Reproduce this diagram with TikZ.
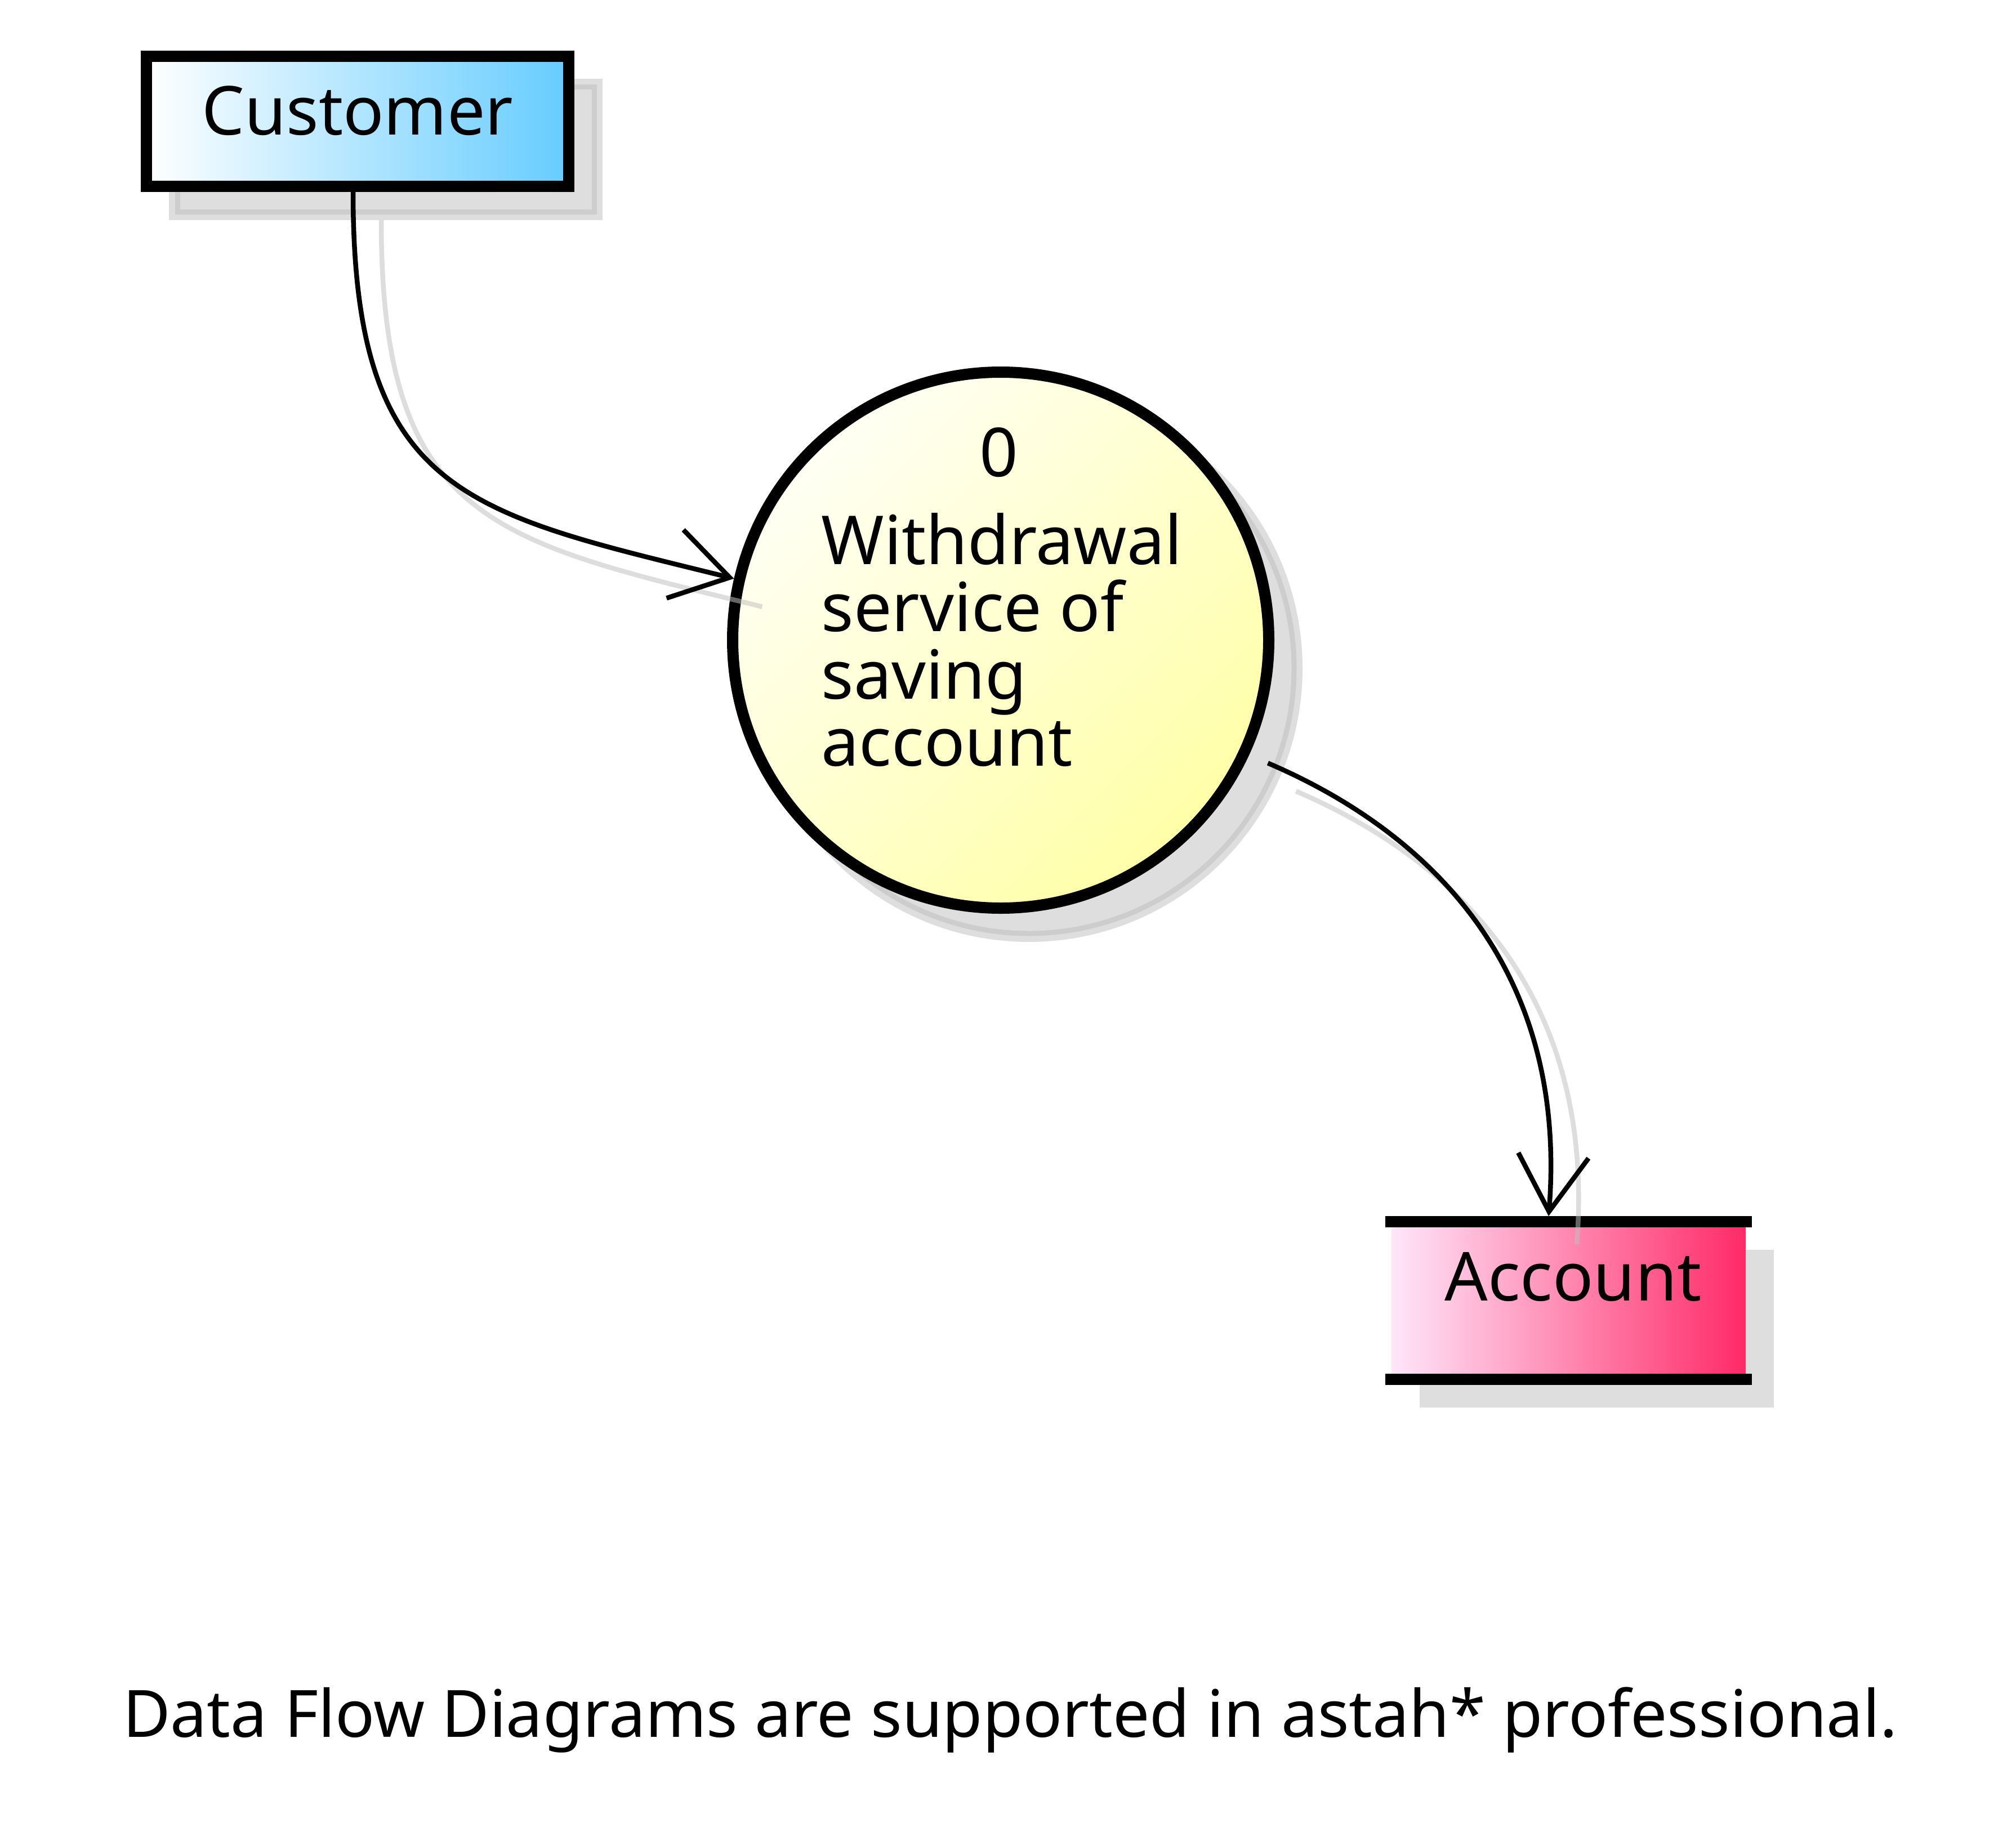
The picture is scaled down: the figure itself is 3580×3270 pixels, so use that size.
\documentclass[tikz,border=0pt]{standalone}
\usepackage{fontspec}
\setmainfont{Noto Sans}
\usetikzlibrary{arrows.meta,backgrounds}
\definecolor{custblue}{HTML}{66CCFF}
\definecolor{procpale}{HTML}{FFFFF4}
\definecolor{procyellow}{HTML}{FFFFA8}
\definecolor{storepale}{HTML}{FFE6FA}
\definecolor{storepink}{HTML}{FF2A68}
\definecolor{shadowgray}{HTML}{DEDEDE}
\definecolor{ringgray}{HTML}{CDCDCD}

\begin{document}
\begin{tikzpicture}[x=1pt, y=-1pt,
    font=\fontsize{120pt}{144pt}\selectfont,
    entity/.style={draw, line width=20pt, left color=white, right color=custblue,
      minimum width=750pt, inner sep=0pt, text height=140pt, text depth=91pt},
    process/.style={circle, draw, line width=20pt, top color=procpale,
      bottom color=procyellow, shading angle=45, minimum size=952pt, inner sep=0pt},
    datastore/.style={left color=storepale, right color=storepink, minimum width=629pt,
      inner sep=0pt, text height=140pt, text depth=140pt, outer xsep=0pt, outer ysep=10pt},
    storebar/.style={line width=20pt},
    shadowfill/.style={fill=shadowgray},
    shadowring/.style={draw=ringgray, line width=9pt},
    flow/.style={line width=8.5pt,
      -{Straight Barb[length=100pt, width=125pt, line cap=butt, line join=miter]}},
    flowshadow/.style={line width=8.5pt, draw=black!25, draw opacity=0.53}]
  \useasboundingbox (0,0) rectangle (3580,3270);

  % Entidad externa
  \node[entity] (cust) at (635,215.5) {Customer};

  % Proceso
  \node[process] (proc) at (1777,1137) {};
  \node[anchor=base] (procnum) at (1774,846) {0};
  \foreach \txt [count=\i] in {Withdrawal, service of, saving, account}
    \node[anchor=base west] (procline\i) at (1455,{882.5+119.5*\i}) {\txt};

  % Almacen de datos
  \node[datastore] (acct) at (2785.5,2310) {\hspace{16pt}Account};
  \draw[storebar] ([shift={(-11,10)}]acct.north west) -- ([shift={(11,10)}]acct.north east);
  \draw[storebar] ([shift={(-11,-10)}]acct.south west) -- ([shift={(11,-10)}]acct.south east);

  % Sombras
  \begin{scope}[on background layer]
    \fill[white] (0,0) rectangle (3580,3270);
    \fill[shadowfill] ([shift={(50,50)}]cust.north west) rectangle ([shift={(50,50)}]cust.south east);
    \draw[shadowring] ([shift={(65,65)}]cust.north west) rectangle ([shift={(35,35)}]cust.south east);
    \fill[shadowfill] ([shift={(50,50)}]proc.center) circle[radius=486];
    \draw[shadowring] ([shift={(50,50)}]proc.center) circle[radius=471];
    \fill[shadowfill] ([shift={(50,60)}]acct.north west) rectangle ([shift={(50,40)}]acct.south east);
  \end{scope}

  % Flujos de datos (sombra primero)
  \foreach \d/\s in {50/flowshadow, 0/flow} {
    \draw[\s] ([shift={(\d-8,\d)}]cust.south) .. controls +(0,540) and +(-473,-117) .. ([shift={(\d,\d)}]proc.167);
    \draw[\s] ([shift={(\d+34,\d+13)}]proc.-25) .. controls +(276,118) and +(35.5,-449) .. ([shift={(\d-35.5,\d)}]acct.north);
  }

  % Nota
  \node[anchor=base, font=\fontsize{116pt}{140pt}\selectfont] (caption) at (1794,3085)
    {Data Flow Diagrams are supported in astah* professional.};
\end{tikzpicture}
\end{document}
